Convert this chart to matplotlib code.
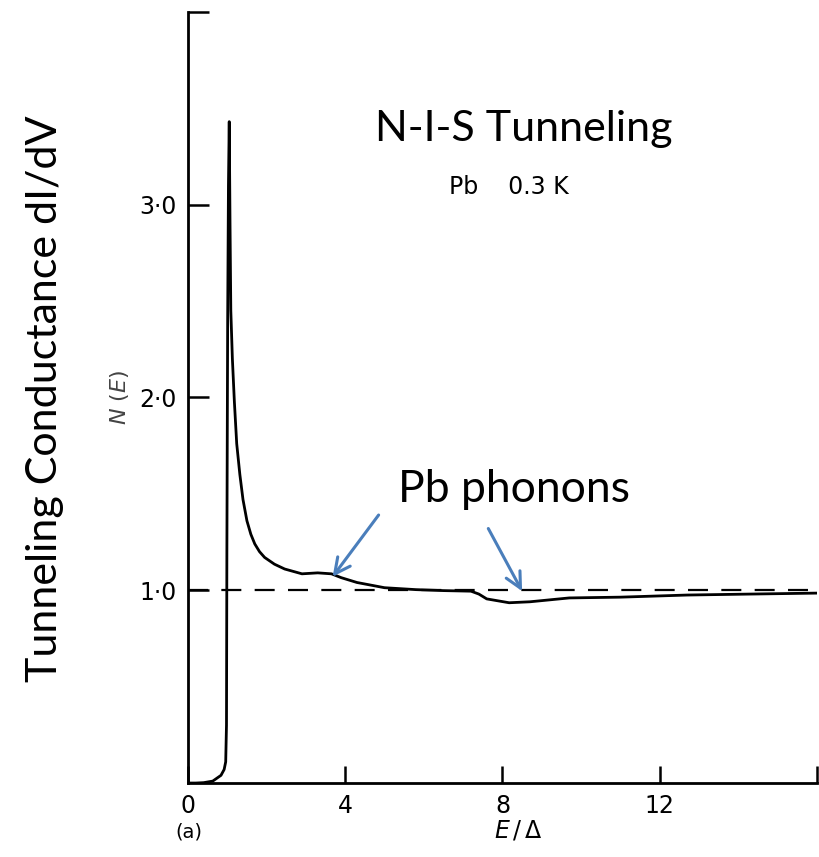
import numpy as np
import matplotlib
matplotlib.use('Agg')
import matplotlib.pyplot as plt

# N-I-S tunnelling density of states for Pb at 0.3 K
e_delta = [0.0, 0.2, 0.4, 0.63, 0.84, 0.92, 0.96, 0.98, 0.99, 1.01, 1.03, 1.05,
           1.07, 1.09, 1.13, 1.18, 1.24, 1.32, 1.40, 1.50, 1.60, 1.70, 1.82, 1.95,
           2.2, 2.46, 2.9, 3.3, 3.65, 3.9, 4.3, 5.0, 5.8, 6.5, 7.2, 7.4, 7.6,
           8.17, 8.7, 9.7, 11.0, 12.7, 14.3, 16.0]
n_e = [0.0, 0.0, 0.002, 0.01, 0.04, 0.07, 0.11, 0.3, 1.2, 2.4, 3.1, 3.43,
       2.9, 2.45, 2.2, 1.98, 1.76, 1.60, 1.47, 1.36, 1.29, 1.24, 1.20, 1.17,
       1.135, 1.11, 1.085, 1.09, 1.085, 1.065, 1.04, 1.013, 1.003, 0.998, 0.995, 0.98, 0.955,
       0.935, 0.94, 0.96, 0.964, 0.975, 0.98, 0.985]

normal_level = 1.0
xticks = [0, 4, 8, 12]
xtick_labels = ['0', '4', '8', '12']
yticks = [1, 2, 3]
ytick_labels = ['1·0', '2·0', '3·0']

# phonon arrows: (tail, tip) in data units
arrow_tails = [(4.85, 1.39), (7.64, 1.32)]
arrow_tips = [(3.68, 1.07), (8.5, 0.995)]

fig = plt.figure(figsize=(8.19, 8.57), dpi=100)
ax = fig.add_axes([0.2295, 0.0863, 0.768, 0.9])

ax.plot(e_delta, n_e, color='black', lw=2.0, solid_joinstyle='round')
ax.plot([0, 16], [normal_level, normal_level], color='black', lw=1.6,
        dashes=(9, 6))

ax.set_xlim(0, 16)
ax.set_ylim(0, 4)
for s in ['top', 'right']:
    ax.spines[s].set_visible(False)
for s in ['left', 'bottom']:
    ax.spines[s].set_linewidth(2)

ax.set_xticks(xticks + [16])
ax.set_xticklabels(xtick_labels + [''], fontsize=17)
ax.set_yticks(yticks + [4])
ax.set_yticklabels(ytick_labels + [''], fontsize=17)
ax.tick_params(direction='in', length=12, width=1.8, pad=8)
ax.tick_params(axis='y', length=15)

ax.text(-0.02, -0.063, '(a)', transform=ax.transAxes, fontsize=14,
        ha='left', va='center')
ax.text(8.4, -0.245, r'$E\,/\,\Delta$', fontsize=17, ha='center', va='center')
ax.text(-1.75, 2.0, r'$N\ (E)$', fontsize=16, rotation=90,
        ha='center', va='center', color='#444444')

fig.text(0.055, 0.535, 'Tunneling Conductance dI/dV', rotation=90,
         fontsize=31, family='Lato', ha='center', va='center')
ax.text(8.53, 3.39, 'N-I-S Tunneling', fontsize=31, family='Lato',
        ha='center', va='center')
ax.text(8.17, 3.09, 'Pb    0.3 K', fontsize=17, ha='center', va='center')
ax.text(8.3, 1.52, 'Pb phonons', fontsize=32, family='Lato',
        ha='center', va='center')

for tail, tip in zip(arrow_tails, arrow_tips):
    ax.annotate('', xy=tip, xytext=tail,
                arrowprops=dict(arrowstyle='->', color='#4a7ebb', lw=2.2,
                                mutation_scale=28, shrinkA=0, shrinkB=0))

fig.savefig('out.png', dpi=100)
